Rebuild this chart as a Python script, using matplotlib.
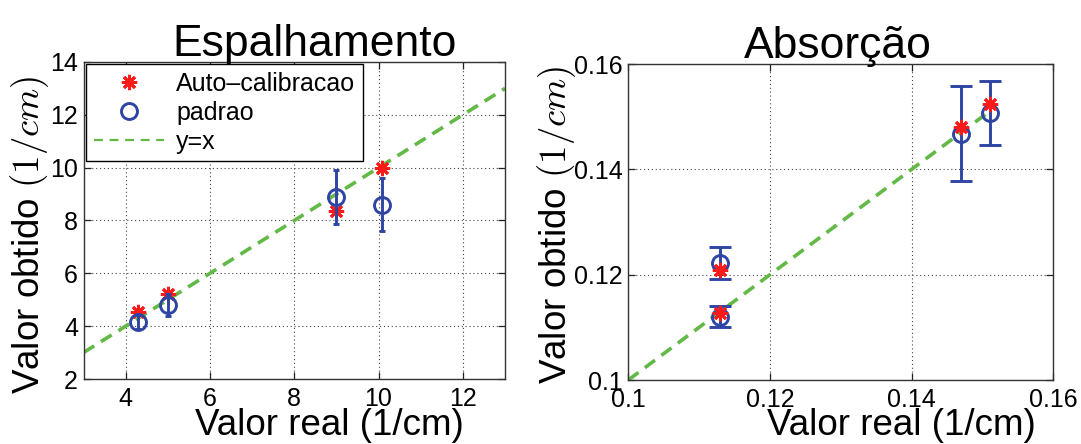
import matplotlib
matplotlib.use("Agg")
import matplotlib.pyplot as plt
from matplotlib.lines import Line2D

plt.rcParams['font.family'] = ['Liberation Sans', 'DejaVu Sans']
plt.rcParams['mathtext.fontset'] = 'cm'

# Espalhamento (1/cm)
esp_real = [4.3, 5.0, 9.0, 10.07]
esp_auto = [4.54, 5.20, 8.37, 10.0]
esp_padrao = [4.16, 4.80, 8.88, 8.60]
esp_err = [0.25, 0.40, 1.02, 1.01]
esp_linha = [3, 13]

# Absorcao (1/cm)
abs_real = [0.113, 0.113, 0.147, 0.151]
abs_auto = [0.1209, 0.1128, 0.1480, 0.1525]
abs_padrao = [0.1222, 0.1120, 0.1468, 0.1507]
abs_err = [0.0030, 0.0020, 0.0090, 0.0060]
abs_linha = [0.1, 0.151]

RED = '#ff1a1a'
BLUE = '#2f45a3'
GREEN = '#63b946'
STAR = (8, 2, 0)

W, H = 1081, 444
fig = plt.figure(figsize=(W / 100, H / 100), dpi=100)
ax1 = fig.add_axes([83.5 / W, (H - 379) / H, 421.5 / W, 317 / H])
ax2 = fig.add_axes([628.3 / W, (H - 380) / H, 425 / W, 316 / H])


def desenha(ax, real, auto, padrao, err, linha, capsize, estrela_em_cima):
    z_circ, z_star = (3, 4) if estrela_em_cima else (4, 3)
    ax.plot(linha, linha, '--', color=GREEN, lw=2.6, dashes=(3.5, 2.2), zorder=2)
    ax.errorbar(real, padrao, yerr=err, fmt='o', color=BLUE, mfc='none',
                mec=BLUE, ms=11.5, mew=2.1, elinewidth=2.1, capsize=capsize,
                capthick=2.1, zorder=z_circ)
    ax.plot(real, auto, linestyle='none', marker=STAR, color=RED, ms=11,
            mew=2.0, zorder=z_star)
    ax.grid(True, linestyle=(0, (1, 2.5)), color='#444444', lw=0.8)
    ax.tick_params(direction='in', length=5, width=0.9, top=True, right=True,
                   labelsize=18, pad=4, colors='#222222', labelcolor='black')
    ax.tick_params(axis='x', pad=6)
    for s in ax.spines.values():
        s.set_color('#333333')
        s.set_linewidth(1.0)


desenha(ax1, esp_real, esp_auto, esp_padrao, esp_err, esp_linha, 2.5, False)
ax1.set_xlim(3, 13)
ax1.set_ylim(2, 14)
ax1.set_xticks([4, 6, 8, 10, 12])
ax1.set_yticks([2, 4, 6, 8, 10, 12, 14])
ax1.set_title('Espalhamento', fontsize=32, pad=4, x=0.548)
ax1.set_xlabel('Valor real (1/cm)', fontsize=26.5)
ax1.set_ylabel('Valor obtido $(1/cm)$', fontsize=26.5)
# xlabel is top-anchored, ylabel is anchored on its descent side
ax1.xaxis.set_label_coords(0.584, -0.092)
ax1.yaxis.set_label_coords(-0.078, 0.455)

handles = [
    Line2D([], [], linestyle='none', marker=STAR, color=RED, ms=11, mew=2.0),
    Line2D([], [], linestyle='none', marker='o', mfc='none', mec=BLUE, ms=11.5, mew=2.1),
    Line2D([], [], linestyle='--', color=GREEN, lw=1.6, dashes=(4, 3)),
]
leg = ax1.legend(handles, ['Auto\u2013calibracao', 'padrao', 'y=x'],
                 loc='upper left', fontsize=18, fancybox=False,
                 edgecolor='black', framealpha=1, borderaxespad=0.1,
                 borderpad=0.3, labelspacing=0.2, handlelength=2.8,
                 handletextpad=0.5)
leg.get_frame().set_linewidth(1.0)
leg.set_zorder(5)

desenha(ax2, abs_real, abs_auto, abs_padrao, abs_err, abs_linha, 8, True)
ax2.set_xlim(0.1, 0.16)
ax2.set_ylim(0.1, 0.16)
ax2.set_xticks([0.1, 0.12, 0.14, 0.16])
ax2.set_yticks([0.1, 0.12, 0.14, 0.16])
ax2.set_xticklabels(['0.1', '0.12', '0.14', '0.16'])
ax2.set_yticklabels(['0.1', '0.12', '0.14', '0.16'])
ax2.set_title('Absorção', fontsize=32, pad=4, x=0.494)
ax2.set_xlabel('Valor real (1/cm)', fontsize=26.5)
ax2.set_ylabel('Valor obtido $(1/cm)$', fontsize=26.5)
ax2.xaxis.set_label_coords(0.642, -0.089)
ax2.yaxis.set_label_coords(-0.118, 0.49)

fig.savefig('out.png', dpi=100)
